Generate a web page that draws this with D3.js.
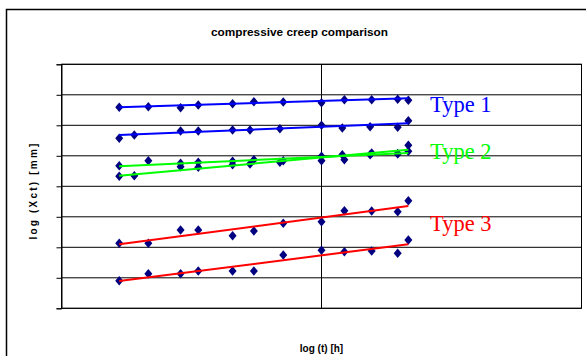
<!DOCTYPE html>
<html><head><meta charset="utf-8">
<script src="https://cdn.jsdelivr.net/npm/d3@7"></script>
<style>html,body{margin:0;padding:0;background:#fff;}svg{display:block;}</style>
</head><body>
<svg id="chart" width="586" height="356"></svg>
<script>
// log(t) positions of the measurement points
const xA = [0.222,0.334,0.458,0.526,0.658,0.740,0.853,1.0,1.088,1.193,1.293,1.334];
const xB = [0.222,0.280,0.458,0.526,0.658,0.725,0.840,1.0,1.080,1.187,1.293,1.334];
// log(Xct) values
const type1a = [6.590,6.610,6.577,6.666,6.708,6.774,6.764,6.741,6.839,6.839,6.852,6.820];
const type1b = [5.574,5.682,5.813,5.813,5.846,5.846,5.889,6.000,5.911,5.954,5.934,6.151];
const type2a = [4.675,4.839,4.754,4.787,4.820,4.872,4.839,4.839,4.872,5.092,5.069,5.148];
const type2b = [4.328,4.348,4.643,4.623,4.708,4.731,4.787,4.984,5.036,5.036,5.069,5.344];
const type3a = [2.131,2.131,2.567,2.567,2.380,2.534,2.787,2.839,3.200,3.190,3.167,3.528];
const type3b = [0.905,1.134,1.134,1.223,1.223,1.223,1.748,1.902,1.856,1.879,1.803,2.239];
// trendline end values (at first and last x)
const trendX = [0.222, 1.334];
const trend1a = [6.590, 6.885];
const trend1b = [5.682, 6.066];
const trend2a = [4.656, 5.092];
const trend2b = [4.348, 5.200];
const trend3a = [2.098, 3.354];
const trend3b = [0.895, 2.098];
const yTicks = [0,1,2,3,4,5,6,7,8];
const xGrid = [1];
const typeLabels = ["Type 1","Type 2","Type 3"];
const title = "compressive creep comparison";
const xTitle = "log (t) [h]";
const yTitle = "log (Xct) [mm]";

const svg = d3.select("#chart");
const x = d3.scaleLinear().domain([0,2]).range([61.5,581.5]);
const y = d3.scaleLinear().domain([0,8]).range([308.3,64.3]);

// outer frame
svg.append("rect").attr("x",6.5).attr("y",9.5).attr("width",600).attr("height",360)
  .attr("fill","none").attr("stroke","#000").attr("stroke-width",1.5);

// title
svg.append("text").attr("x",299.5).attr("y",35.5).attr("text-anchor","middle")
  .attr("font-family","Liberation Sans, Arial, sans-serif").attr("font-weight","bold")
  .attr("font-size","11.8px").attr("fill","#000").text(title);

const g = svg.append("g");
// horizontal gridlines
g.selectAll("line.h").data(yTicks).join("line").attr("class","h")
  .attr("x1",x(0)).attr("x2",x(2)).attr("y1",d=>y(d)).attr("y2",d=>y(d))
  .attr("stroke","#000").attr("stroke-width",1);
// vertical gridline
g.selectAll("line.v").data(xGrid).join("line").attr("class","v")
  .attr("x1",d=>x(d)).attr("x2",d=>x(d)).attr("y1",y(8)).attr("y2",y(0))
  .attr("stroke","#000").attr("stroke-width",1);
// plot border
g.append("rect").attr("x",x(0)).attr("y",y(8)).attr("width",x(2)-x(0)).attr("height",y(0)-y(8))
  .attr("fill","none").attr("stroke","#000").attr("stroke-width",1);
// y axis ticks
const yAxis = d3.axisLeft(y).tickValues(yTicks).tickSize(5).tickFormat("");
const ya = svg.append("g").attr("transform",`translate(${x(0)},0)`).call(yAxis);
ya.select(".domain").attr("stroke","#000");
ya.selectAll(".tick line").attr("stroke","#000");

// markers
const diamond = { draw(ctx){ ctx.moveTo(0,-4.7); ctx.lineTo(4,0); ctx.lineTo(0,4.7); ctx.lineTo(-4,0); ctx.closePath(); } };
const series = [
  {xs:xA, ys:type1a},{xs:xB, ys:type1b},
  {xs:xA, ys:type2a},{xs:xB, ys:type2b},
  {xs:xA, ys:type3a},{xs:xA, ys:type3b}
];
const sym = d3.symbol().type(diamond);
series.forEach(s=>{
  svg.append("g").selectAll("path").data(s.ys.map((v,i)=>[s.xs[i],v])).join("path")
    .attr("d",sym).attr("transform",d=>`translate(${x(d[0])},${y(d[1])})`)
    .attr("fill","#000080");
});

// trendlines
const trends = [
  {ys:trend1a,c:"#0000ff"},{ys:trend1b,c:"#0000ff"},
  {ys:trend2a,c:"#00ff00"},{ys:trend2b,c:"#00ff00"},
  {ys:trend3a,c:"#ff0000"},{ys:trend3b,c:"#ff0000"}
];
const line = d3.line().x(d=>x(d[0])).y(d=>y(d[1]));
trends.forEach(t=>{
  svg.append("path").attr("d",line(trendX.map((v,i)=>[v,t.ys[i]])))
    .attr("fill","none").attr("stroke",t.c).attr("stroke-width",2);
});

// type labels
const labelColors = ["#0000ff","#00ff00","#ff0000"];
const labelY = [111.5, 159, 231];
typeLabels.forEach((t,i)=>{
  svg.append("text").attr("x",430).attr("y",labelY[i])
    .attr("font-family","Liberation Serif, Times New Roman, serif")
    .attr("font-size","22.5px").attr("fill",labelColors[i]).text(t);
});

// axis titles
svg.append("text").attr("x",321.5).attr("y",351.5).attr("text-anchor","middle")
  .attr("font-family","Liberation Sans, Arial, sans-serif").attr("font-weight","bold")
  .attr("font-size","10px").attr("fill","#000").text(xTitle);
svg.append("text").attr("transform","translate(37,190.5) rotate(-90)").attr("text-anchor","middle")
  .attr("font-family","Liberation Sans, Arial, sans-serif").attr("font-weight","bold")
  .attr("font-size","10px").attr("letter-spacing","2.2px").attr("fill","#000").text(yTitle);
</script>
</body></html>
